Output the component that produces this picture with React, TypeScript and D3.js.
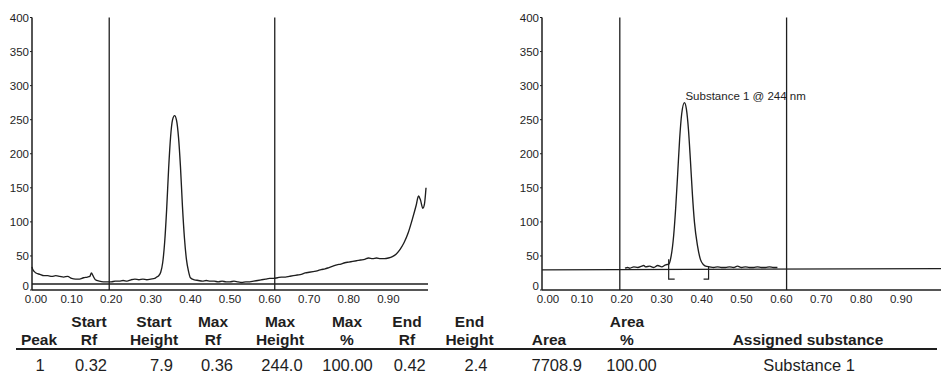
import React from "react";
import * as d3 from "d3";

// ---------- data ----------
const yTicks = [0, 50, 100, 150, 200, 250, 300, 350, 400];
const xTicks = [0, 0.1, 0.2, 0.3, 0.4, 0.5, 0.6, 0.7, 0.8, 0.9];
const xTickLabels = ["0.00", "0.10", "0.20", "0.30", "0.40", "0.50", "0.60", "0.70", "0.80", "0.90"];

// scanning window (vertical lines), Rf
const windowRf = [0.195, 0.613];

// left chromatogram (full scan)
const leftRf = [
  0.0, 0.002, 0.006, 0.01, 0.02, 0.03, 0.04, 0.05, 0.06, 0.07, 0.08, 0.09, 0.1, 0.11, 0.12, 0.13, 0.14,
  0.146, 0.15, 0.154, 0.16, 0.17, 0.18, 0.19, 0.2, 0.21, 0.22, 0.23, 0.24, 0.25, 0.26, 0.27, 0.28, 0.29,
  0.3, 0.31, 0.315, 0.32, 0.325, 0.33, 0.335, 0.34, 0.345, 0.35, 0.355, 0.36, 0.365, 0.37, 0.375, 0.38,
  0.385, 0.39, 0.395, 0.4, 0.41, 0.42, 0.43, 0.44, 0.45, 0.46, 0.47, 0.48, 0.49, 0.5, 0.51, 0.52, 0.53,
  0.54, 0.55, 0.56, 0.57, 0.58, 0.59, 0.6, 0.61, 0.62, 0.63, 0.64, 0.65, 0.66, 0.67, 0.68, 0.69, 0.7,
  0.71, 0.72, 0.73, 0.74, 0.75, 0.76, 0.77, 0.78, 0.79, 0.8, 0.81, 0.82, 0.83, 0.84, 0.85, 0.86, 0.87,
  0.88, 0.89, 0.9, 0.91, 0.92, 0.93, 0.94, 0.95, 0.96, 0.97, 0.976, 0.981, 0.987, 0.991, 0.995,
];
const leftSignal = [
  34, 30, 27, 25, 23, 21, 21, 20, 21, 20, 19, 20, 17, 16, 16, 18, 19,
  20, 25, 21, 15, 13, 12, 12, 12, 13, 13, 14, 13, 15, 16, 15, 16, 15,
  16, 17, 19, 21, 26, 40, 70, 118, 178, 225, 250, 256, 249, 224, 180, 122,
  76, 45, 28, 18, 15, 14, 13, 14, 13, 13, 12, 13, 12, 12, 13, 12, 11,
  12, 12, 13, 14, 15, 16, 17, 17, 18, 19, 19, 20, 21, 22, 23, 25, 26,
  27, 28, 30, 31, 33, 35, 37, 38, 40, 41, 42, 43, 44, 45, 47, 46, 47,
  46, 46, 47, 49, 53, 60, 70, 84, 103, 124, 138, 132, 120, 126, 150,
];
const leftBaseline = 8.8;

// right chromatogram (scanning window only)
const rightRf = [
  0.208, 0.215, 0.22, 0.23, 0.24, 0.25, 0.255, 0.26, 0.27, 0.28, 0.29, 0.3, 0.31, 0.318, 0.322, 0.33,
  0.335, 0.34, 0.345, 0.35, 0.357, 0.362, 0.367, 0.372, 0.377, 0.382, 0.39, 0.397, 0.405, 0.41, 0.42,
  0.43, 0.44, 0.45, 0.46, 0.47, 0.48, 0.49, 0.5, 0.51, 0.52, 0.53, 0.54, 0.55, 0.56, 0.57, 0.58, 0.59,
];
const rightSignal = [
  32, 33, 32, 34, 33, 35, 36, 34, 35, 33, 36, 34, 37, 38, 45, 80,
  120, 170, 222, 258, 275, 265, 236, 190, 140, 100, 64, 45, 37, 35, 34,
  33, 34, 33, 33, 34, 33, 35, 33, 34, 33, 33, 34, 33, 33, 34, 33, 33,
];
const rightBaseline = [29.5, 31.5];
const peakLabel = "Substance 1 @ 244 nm";
const peakRf = 0.357;
const peakHeight = 275;

// results table
const headerTop = ["", "Start", "Start", "Max", "Max", "Max", "End", "End", "", "Area", ""];
const headerBottom = ["Peak", "Rf", "Height", "Rf", "Height", "%", "Rf", "Height", "Area", "%", "Assigned substance"];
const rowValues = ["1", "0.32", "7.9", "0.36", "244.0", "100.00", "0.42", "2.4", "7708.9", "100.00", "Substance 1"];
const startRf = 0.32;
const endRf = 0.42;

// ---------- layout ----------
const W = 941;
const H = 376;
const INK = "#1e1e1e";
const FONT = "'Liberation Sans', Arial, Helvetica, sans-serif";
const headerX = [39, 89, 154, 213, 280, 347, 407, 469.5, 549, 627, 808];
const valueX = [40, 91, 161.5, 217, 282, 347.5, 409.7, 476, 556.7, 631.5, 809];

const y = d3.scaleLinear().domain([0, 400]).range([290, 17.5]);

function Axes({ x, xEnd, labelOffset }: { x: d3.ScaleLinear<number, number>; xEnd: number; labelOffset: number }) {
  const x0 = x(0);
  return (
    <g>
      <line x1={x0} x2={x0} y1={y(400)} y2={y(0)} stroke={INK} strokeWidth={1.5} />
      <line x1={x0} x2={xEnd} y1={y(0)} y2={y(0)} stroke={INK} strokeWidth={1.6} />
      {yTicks.map((t) => (
        <g key={t}>
          <line x1={x0 - 2} x2={x0} y1={y(t)} y2={y(t)} stroke={INK} strokeWidth={1} />
          <text x={x0 - 3} y={y(t) - (t === 0 ? 4 : 0)} dy="0.35em" textAnchor="end" fontSize={11.5} fill={INK}>
            {t}
          </text>
        </g>
      ))}
      {xTicks.map((t, i) => (
        <text key={t} x={x(t) + (i === 0 ? labelOffset : 0)} y={302.5} textAnchor="middle" fontSize={11.5} fill={INK}>
          {xTickLabels[i]}
        </text>
      ))}
    </g>
  );
}

export default function App() {
  const xL = d3.scaleLinear().domain([0, 1]).range([32, 428]);
  const xR = d3.scaleLinear().domain([0, 1]).range([542, 941]);

  const lineL = d3
    .line<number>()
    .x((_, i) => xL(leftRf[i]))
    .y((d) => y(d))
    .curve(d3.curveMonotoneX);
  const lineR = d3
    .line<number>()
    .x((_, i) => xR(rightRf[i]))
    .y((d) => y(d))
    .curve(d3.curveMonotoneX);

  const bracketDepth = y(16);
  const sigAt = (rf: number) => {
    const i = d3.bisectLeft(rightRf, rf);
    return rightSignal[Math.min(i, rightSignal.length - 1)];
  };

  return (
    <svg width={W} height={H} style={{ position: "absolute", left: 0, top: 0, background: "#fff" }} fontFamily={FONT}>
      <rect width={W} height={H} fill="#fff" />

      {/* ---------- left chart ---------- */}
      <Axes x={xL} xEnd={428} labelOffset={4} />
      {windowRf.map((r) => (
        <line key={r} x1={xL(r)} x2={xL(r)} y1={y(400)} y2={y(0)} stroke={INK} strokeWidth={1.3} />
      ))}
      <line x1={xL(0)} x2={428} y1={y(leftBaseline)} y2={y(leftBaseline)} stroke={INK} strokeWidth={1.3} />
      <path d={lineL(leftSignal) || ""} fill="none" stroke={INK} strokeWidth={1.35} />

      {/* ---------- right chart ---------- */}
      <Axes x={xR} xEnd={941} labelOffset={6} />
      {windowRf.map((r) => (
        <line key={r} x1={xR(r)} x2={xR(r)} y1={y(400)} y2={y(0)} stroke={INK} strokeWidth={1.3} />
      ))}
      <line x1={xR(0)} x2={941} y1={y(rightBaseline[0])} y2={y(rightBaseline[1])} stroke={INK} strokeWidth={1.3} />
      <path d={lineR(rightSignal) || ""} fill="none" stroke={INK} strokeWidth={1.35} />
      {/* integration brackets */}
      <path
        d={`M${xR(startRf) - 1},${y(sigAt(startRf))} V${bracketDepth} H${xR(startRf) + 5}`}
        fill="none"
        stroke={INK}
        strokeWidth={1.2}
      />
      <path
        d={`M${xR(endRf) - 1},${y(sigAt(endRf))} V${bracketDepth} H${xR(endRf) - 6}`}
        fill="none"
        stroke={INK}
        strokeWidth={1.2}
      />
      <text x={xR(peakRf) + 1} y={y(peakHeight) - 3} fontSize={11.5} fill={INK}>
        {peakLabel}
      </text>

      {/* ---------- table ---------- */}
      {headerTop.map((h, i) =>
        h ? (
          <text key={"t" + i} x={headerX[i]} y={327} textAnchor="middle" fontSize={15.5} fontWeight="bold" fill={INK}>
            {h}
          </text>
        ) : null
      )}
      {headerBottom.map((h, i) => (
        <text key={"b" + i} x={headerX[i]} y={345} textAnchor="middle" fontSize={15.5} fontWeight="bold" fill={INK}>
          {h}
        </text>
      ))}
      <line x1={16} x2={937} y1={349} y2={349} stroke={INK} strokeWidth={1.8} />
      {rowValues.map((v, i) => (
        <text key={"v" + i} x={valueX[i]} y={371} textAnchor="middle" fontSize={16.5} fill={INK}>
          {v}
        </text>
      ))}
    </svg>
  );
}
